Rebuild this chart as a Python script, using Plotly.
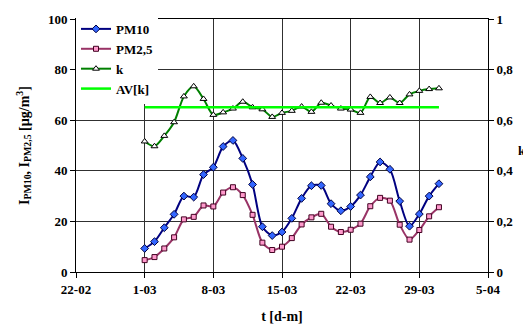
import pandas as pd
import plotly.graph_objects as go

start_day = "2005-03-01"
n_days = 31
dates = pd.date_range(start_day, periods=n_days, freq="D")

pm10 = [9.3, 12.0, 17.5, 22.8, 30.0, 29.6, 38.5, 41.4, 49.6, 52.0, 44.9, 34.6, 17.9, 14.4, 15.8,
        21.2, 29.1, 34.1, 34.2, 27.0, 24.2, 25.9, 30.4, 37.6, 43.5, 40.6, 28.0, 18.1, 22.9, 30.0, 34.9]
pm25 = [4.7, 5.9, 9.3, 13.7, 20.8, 21.8, 26.3, 25.9, 31.4, 33.5, 30.4, 22.6, 11.6, 8.7, 10.0,
        13.4, 18.8, 21.6, 23.0, 17.9, 15.8, 16.7, 19.1, 26.0, 29.3, 28.2, 18.7, 12.8, 16.6, 22.0, 25.6]
k_vals = [0.516, 0.497, 0.538, 0.592, 0.694, 0.734, 0.684, 0.621, 0.631, 0.646, 0.673, 0.651, 0.643, 0.613, 0.629,
          0.637, 0.654, 0.633, 0.669, 0.658, 0.646, 0.642, 0.629, 0.692, 0.668, 0.690, 0.668, 0.702, 0.716, 0.723, 0.726]
av_k = 0.651

x_ticks = pd.date_range("2005-02-22", "2005-04-05", freq="7D")
x_ticklabels = ["22-02", "1-03", "8-03", "15-03", "22-03", "29-03", "5-04"]
y_ticks = [0, 20, 40, 60, 80, 100]
y_ticklabels = ["0", "20", "40", "60", "80", "100"]
k_ticks = [0, 0.2, 0.4, 0.6, 0.8, 1.0]
k_ticklabels = ["0", "0,2", "0,4", "0,6", "0,8", "1"]

FONT = "Liberation Serif"
tfont = dict(family=FONT, size=13, color="black")


def b(s):
    return "<b>" + s + "</b>"


fig = go.Figure()
fig.add_trace(go.Scatter(
    x=dates, y=pm10, name=b("PM10"), mode="lines+markers",
    line=dict(color="#000080", width=2, shape="spline", smoothing=0.8),
    marker=dict(symbol="diamond", size=6, color="#3366FF", line=dict(color="#000040", width=1)),
))
fig.add_trace(go.Scatter(
    x=dates, y=pm25, name=b("PM2,5"), mode="lines+markers",
    line=dict(color="#993366", width=2, shape="spline", smoothing=0.8),
    marker=dict(symbol="square", size=5, color="#FF99CC", line=dict(color="#400020", width=1)),
))
fig.add_trace(go.Scatter(
    x=dates, y=k_vals, name=b("k"), mode="lines+markers", yaxis="y2",
    line=dict(color="#008000", width=2, shape="spline", smoothing=0.8),
    marker=dict(symbol="triangle-up", size=6, color="white", line=dict(color="black", width=1)),
))
fig.add_trace(go.Scatter(
    x=[dates[0], dates[-1]], y=[av_k, av_k], name=b("AV[k]"), mode="lines", yaxis="y2",
    line=dict(color="#00FF00", width=2.5),
))

# the page has an 8px body margin, so the figure is drawn 8px smaller
fig.update_layout(
    width=523, height=321,
    margin=dict(l=68, r=43, t=11, b=57, autoexpand=False),
    paper_bgcolor="white", plot_bgcolor="white",
    separators=", ",
    font=dict(family=FONT, size=13, color="black"),
    showlegend=True,
    legend=dict(x=0.0, y=1.02, xanchor="left", yanchor="top",
                bgcolor="white", borderwidth=0,
                font=dict(family=FONT, size=13, color="black"),
                itemwidth=30, tracegroupgap=0,
                traceorder="normal"),
    xaxis=dict(
        type="date", range=["2005-02-22", "2005-04-05"],
        tickvals=list(x_ticks), ticktext=[b(t) for t in x_ticklabels],
        showgrid=True, gridcolor="#303030", gridwidth=1,
        showline=True, linecolor="black", linewidth=1, mirror=True,
        ticks="outside", ticklen=5, tickcolor="black",
        tickfont=tfont, automargin=False,
        title=dict(text=b("t [d-m]"), font=dict(family=FONT, size=14, color="black")),
        zeroline=False,
    ),
    yaxis=dict(
        range=[0, 100],
        tickvals=y_ticks, ticktext=[b(t) for t in y_ticklabels],
        showgrid=True, gridcolor="#303030", gridwidth=1,
        showline=True, linecolor="black", linewidth=1,
        ticks="outside", ticklen=5, tickcolor="black",
        tickfont=tfont, automargin=False,
        title=dict(text=b("I<sub>PM10</sub>, I<sub>PM2,5</sub> [µg/m<sup>3</sup>]"),
                   font=dict(family=FONT, size=14, color="black")),
        zeroline=False,
    ),
    yaxis2=dict(
        range=[0, 1], overlaying="y", side="right",
        tickvals=k_ticks, ticktext=[b(t) for t in k_ticklabels],
        showgrid=False,
        showline=True, linecolor="black", linewidth=1,
        ticks="outside", ticklen=5, tickcolor="black",
        tickfont=tfont, zeroline=False, automargin=False,
    ),
    annotations=[dict(text=b("k"), xref="paper", yref="paper", x=1.083, y=0.48,
                      showarrow=False, xanchor="center", yanchor="middle",
                      font=dict(family=FONT, size=13, color="black"))],
)

fig.write_html("out.html")
